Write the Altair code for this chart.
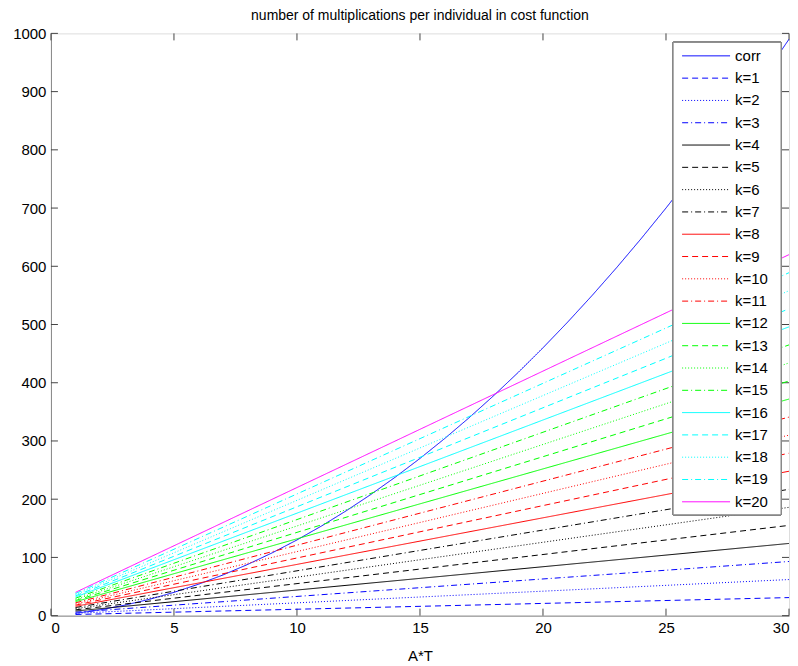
import altair as alt
import pandas as pd

# ---- data ----
corr_x = list(range(1, 31))
corr_vals = [4, 10, 18, 28, 40, 54, 70, 88, 108, 130, 154, 180, 208, 238, 270,
             304, 340, 378, 418, 460, 504, 550, 598, 648, 700, 754, 810, 868, 928, 990]
k_labels = ["k=%d" % k for k in range(1, 21)]
k_x = [1, 30]
k_start = [2, 4, 6, 8, 10, 12, 14, 16, 18, 20, 22, 24, 26, 28, 30, 32, 34, 36, 38, 40]
k_end = [31, 62, 93, 124, 155, 186, 217, 248, 279, 310, 341, 372, 403, 434, 465,
         496, 527, 558, 589, 620]
x_ticks = [0, 5, 10, 15, 20, 25, 30]
y_ticks = [0, 100, 200, 300, 400, 500, 600, 700, 800, 900, 1000]

series = ["corr"] + k_labels
colors = (["#0000ff"] * 4 + ["#000000"] * 4 + ["#ff0000"] * 4 +
          ["#00ff00"] * 4 + ["#00ffff"] * 4 + ["#ff00ff"])
styles = [[1, 0], [6, 4], [1, 2], [6, 3, 1, 3]]
dashes = [styles[i % 4] for i in range(len(series))]

rows = []
for i, (xv, yv) in enumerate(zip(corr_x, corr_vals)):
    rows.append({"s": "corr", "x": xv, "y": yv, "o": 0})
for j, lab in enumerate(k_labels):
    rows.append({"s": lab, "x": k_x[0], "y": k_start[j], "o": j + 1})
    rows.append({"s": lab, "x": k_x[1], "y": k_end[j], "o": j + 1})
df = pd.DataFrame(rows)
leg_df = pd.DataFrame({"s": series})

W, H = 739, 583
FONT = "Liberation Sans"

xs = alt.Scale(domain=[0, 30], nice=False, zero=False)
ys = alt.Scale(domain=[0, 1000], nice=False)
cs = alt.Scale(domain=series, range=colors)
ds = alt.Scale(domain=series, range=dashes)
ls = alt.Scale(type="point", domain=series, range=[22.5, 469], padding=0)

x_axis = alt.Axis(values=x_ticks, tickSize=0, grid=False, labelFontSize=15,
                  labelFont=FONT, labelPadding=5, titleFontSize=15,
                  titleFont=FONT, titleFontWeight="normal", titlePadding=13,
                  domainColor="#888888", labelColor="#000000",
                  titleColor="#000000", format="d")

lines = alt.Chart(df).mark_line(strokeWidth=1, clip=True).encode(
    x=alt.X("x:Q", scale=xs, title="A*T", axis=x_axis),
    y=alt.Y("y:Q", scale=ys, title=None,
            axis=alt.Axis(values=y_ticks, tickSize=0, grid=False, labelFontSize=15,
                          labelFont=FONT, labelPadding=5, domainColor="#888888",
                          labelColor="#000000", format="d")),
    color=alt.Color("s:N", scale=cs, legend=None),
    strokeDash=alt.StrokeDash("s:N", scale=ds, legend=None),
    order=alt.Order("o:Q"),
)

tick_color = "#444444"
xt = pd.DataFrame({"t": x_ticks})
yt = pd.DataFrame({"t": y_ticks})
xb = alt.Chart(xt).mark_rule(color=tick_color, strokeWidth=1).encode(
    x=alt.X("t:Q", scale=xs, title="A*T", axis=x_axis),
    y=alt.value(H), y2=alt.value(H - 7))
xtop = alt.Chart(xt).mark_rule(color=tick_color, strokeWidth=1).encode(
    x=alt.X("t:Q", scale=xs, title="A*T", axis=x_axis),
    y=alt.value(0), y2=alt.value(7))
yl = alt.Chart(yt).mark_rule(color=tick_color, strokeWidth=1).encode(
    y=alt.Y("t:Q", scale=ys, axis=None), x=alt.value(0), x2=alt.value(7))
yr = alt.Chart(yt).mark_rule(color=tick_color, strokeWidth=1).encode(
    y=alt.Y("t:Q", scale=ys, axis=None), x=alt.value(W - 7), x2=alt.value(W))

# legend (inside top-right)
leg_box = alt.Chart(leg_df).mark_rect(fill="white", stroke="#888888",
                                      strokeWidth=1).encode(
    x=alt.value(623), x2=alt.value(731), y=alt.value(9), y2=alt.value(482))
leg_lines = alt.Chart(leg_df).mark_rule(strokeWidth=1).encode(
    x=alt.value(632), x2=alt.value(680),
    y=alt.Y("s:N", scale=ls, axis=None),
    color=alt.Color("s:N", scale=cs, legend=None),
    strokeDash=alt.StrokeDash("s:N", scale=ds, legend=None),
)
leg_text = alt.Chart(leg_df).mark_text(align="left", baseline="middle", fontSize=15,
                                       font=FONT, color="#000000").encode(
    x=alt.value(685),
    y=alt.Y("s:N", scale=ls, axis=None),
    text="s:N",
)

chart = alt.layer(xb, xtop, yl, yr, lines, leg_box, leg_lines, leg_text).resolve_scale(
    y="independent"
).properties(
    width=W, height=H,
    title=alt.TitleParams("number of multiplications per individual in cost function",
                          fontSize=14, font=FONT, fontWeight="normal",
                          color="#000000", offset=3),
    padding={"left": 4, "top": 1, "right": 0, "bottom": 0},
).configure_view(stroke="#888888", strokeWidth=1).configure(background="white")

chart.save("out.html", embed_options={"renderer": "svg", "actions": False})
